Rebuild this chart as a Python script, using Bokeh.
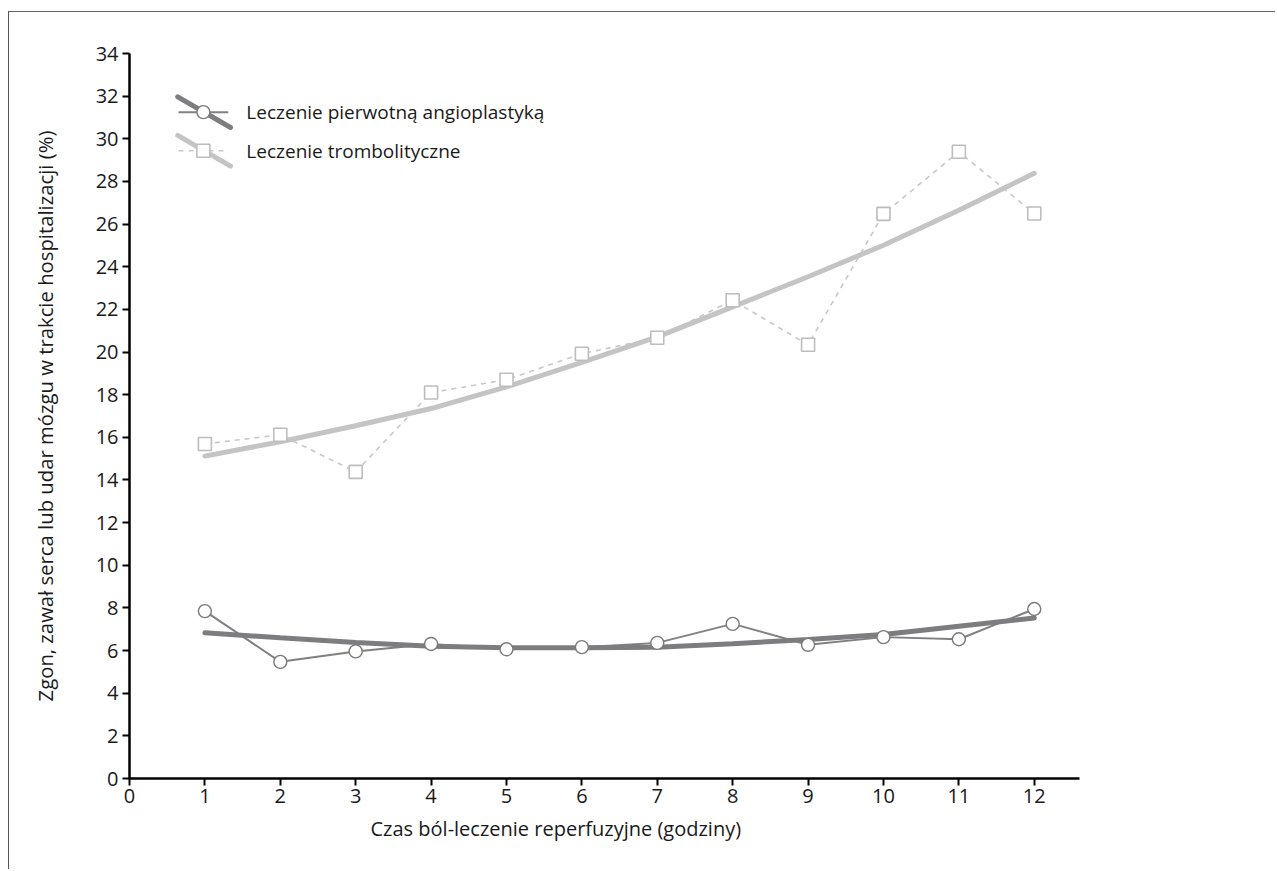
from bokeh.plotting import figure
from bokeh.embed import file_html
from bokeh.resources import INLINE
from bokeh.models import FixedTicker, Range1d, Title
from bokeh.core.properties import value

# ---- data ----
hours = [1, 2, 3, 4, 5, 6, 7, 8, 9, 10, 11, 12]
angio = [7.85, 5.47, 5.96, 6.31, 6.06, 6.16, 6.36, 7.25, 6.27, 6.63, 6.53, 7.95]
angio_trend = [6.83, 6.60, 6.38, 6.20, 6.13, 6.13, 6.15, 6.32, 6.52, 6.75, 7.14, 7.53]
thrombo = [15.69, 16.12, 14.38, 18.10, 18.70, 19.92, 20.67, 22.43, 20.34, 26.48, 29.39, 26.50]
thrombo_trend = [15.12, 15.79, 16.54, 17.35, 18.37, 19.51, 20.71, 22.12, 23.53, 25.01, 26.65, 28.38]
x_ticks = list(range(0, 13))
y_ticks = list(range(0, 35, 2))
labels = ["Leczenie pierwotną angioplastyką", "Leczenie trombolityczne"]
x_title = "Czas ból-leczenie reperfuzyjne (godziny)"
y_title = "Zgon, zawał serca lub udar mózgu w trakcie hospitalizacji (%)"

FONT = "Open Sans"
DARK = "#7d7d80"
DARK_THIN = "#808080"
LIGHT = "#c4c4c4"
LIGHT_THIN = "#c8c8c8"
TEXT = "#1a1a1a"

p = figure(width=1267, height=858, output_backend="svg", toolbar_location=None,
           x_range=Range1d(0, 12.6), y_range=Range1d(0, 34),
           min_border_left=120, min_border_right=197, min_border_top=41, min_border_bottom=92)
p.styles = {"border-top": "1px solid #666666", "border-left": "1px solid #555555",
            "margin-top": "11px", "margin-left": "8px"}

p.grid.visible = False
p.outline_line_color = None
p.background_fill_color = "white"
p.border_fill_color = "white"

for ax in (p.xaxis[0], p.yaxis[0]):
    ax.axis_line_color = "black"
    ax.axis_line_width = 2.5
    ax.major_tick_line_color = "black"
    ax.major_tick_line_width = 2
    ax.major_tick_in = 0
    ax.major_tick_out = 7
    ax.minor_tick_line_color = None
    ax.major_label_text_font = FONT
    ax.major_label_text_font_size = "20px"
    ax.major_label_text_color = TEXT
    ax.axis_label_text_font = FONT
    ax.axis_label_text_font_style = "normal"
    ax.axis_label_text_color = TEXT

p.yaxis.axis_label_text_font_size = "20.3px"
p.xaxis.ticker = FixedTicker(ticks=x_ticks)
p.yaxis.ticker = FixedTicker(ticks=y_ticks)
p.yaxis.axis_label = y_title
p.xaxis.major_label_standoff = 3
p.yaxis.major_label_standoff = 4
p.yaxis.axis_label_standoff = 34

# x title: a title below the axis, shifted left of the frame centre as in the original
p.add_layout(Title(text=x_title, align="left", offset=241, standoff=14,
                   text_font=FONT, text_font_size="20px", text_font_style="normal",
                   text_color=TEXT), "below")

# thrombolytic
p.line(hours, thrombo, line_color=LIGHT_THIN, line_width=1.6, line_dash="5 5")
p.line(hours, thrombo_trend, line_color=LIGHT, line_width=5, line_cap="round")
p.scatter(hours, thrombo, marker="square", size=13, fill_color="white",
          line_color="#bdbdbd", line_width=1.6)

# angioplasty
p.line(hours, angio, line_color=DARK_THIN, line_width=2)
p.line(hours, angio_trend, line_color=DARK, line_width=5, line_cap="round")
p.scatter(hours, angio, marker="circle", size=13, fill_color="white",
          line_color="#7a7a7a", line_width=1.4)

# ---- manual legend (decoration, placed in data space) ----
lx0, lx1 = 0.64, 1.34
lmx = 0.98
ltx = 1.55
ly1, ly2 = 31.25, 29.44
dy = 0.72
p.line([lx0, lx1], [ly1 + dy, ly1 - dy], line_color=DARK, line_width=5, line_cap="round")
p.line([0.65, 1.31], [ly1, ly1], line_color=DARK_THIN, line_width=2)
p.scatter([lmx], [ly1], marker="circle", size=13, fill_color="white", line_color="#7a7a7a", line_width=1.4)
p.line([lx0, lx1], [ly2 + dy, ly2 - dy], line_color=LIGHT, line_width=5, line_cap="round")
p.line([0.65, 1.31], [ly2, ly2], line_color=LIGHT_THIN, line_width=1.6, line_dash="5 5")
p.scatter([lmx], [ly2], marker="square", size=13, fill_color="white", line_color="#bdbdbd", line_width=1.6)
p.text([ltx, ltx], [ly1, ly2], text=labels, text_font=value(FONT), text_font_size="19px",
       text_baseline="middle", text_align="left", text_color=TEXT)

open("out.html", "w").write(file_html(p, INLINE))
